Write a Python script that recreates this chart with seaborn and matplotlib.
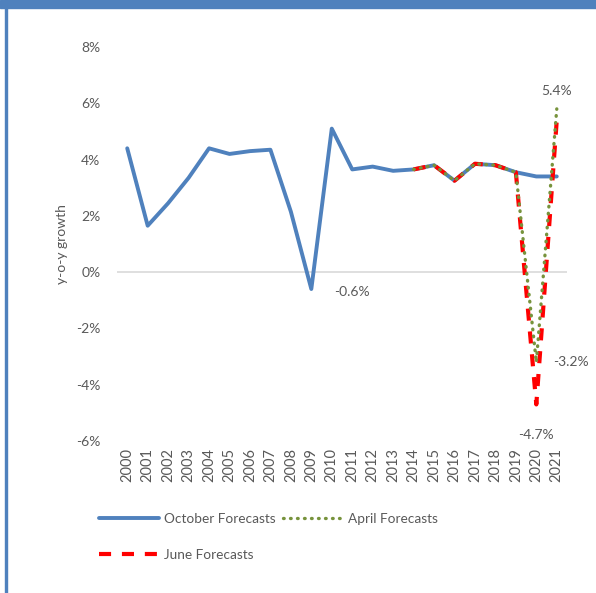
import matplotlib
matplotlib.use("Agg")
import matplotlib.pyplot as plt
from matplotlib.patches import Rectangle
from matplotlib.lines import Line2D
from matplotlib.ticker import FuncFormatter
import pandas as pd
import seaborn as sns

# data (y-o-y growth, %)
years = list(range(2000, 2022))
october = [4.4, 1.65, 2.45, 3.35, 4.4, 4.2, 4.3, 4.35, 2.15, -0.6, 5.1,
           3.65, 3.75, 3.6, 3.65, 3.8, 3.25, 3.85, 3.8, 3.55, 3.4, 3.4]
fc_years = list(range(2014, 2022))
april = [3.65, 3.8, 3.25, 3.85, 3.8, 3.55, -3.2, 5.8]
june = [3.65, 3.8, 3.25, 3.85, 3.8, 3.55, -4.7, 5.4]

BLUE = "#4F81BD"
GREEN = "#77933C"
RED = "#FF0000"
TXT = "#595959"

sns.set_style("white")
plt.rcParams["font.family"] = ["Lato", "DejaVu Sans"]
plt.rcParams["font.size"] = 10

df_oct = pd.DataFrame({"year": years, "growth": october})
df_apr = pd.DataFrame({"year": fc_years, "growth": april})
df_jun = pd.DataFrame({"year": fc_years, "growth": june})

fig = plt.figure(figsize=(5.96, 5.93), dpi=100)
ax = fig.add_axes([117 / 596, 1 - 441 / 593, 450 / 596, 394 / 593])

ax.axhline(0, color="#D9D9D9", lw=1.2, zorder=1)

sns.lineplot(data=df_oct, x="year", y="growth", ax=ax, color=BLUE, lw=2.8,
             estimator=None, errorbar=None, zorder=2)
sns.lineplot(data=df_jun, x="year", y="growth", ax=ax, color=RED, lw=3,
             linestyle=(0, (2.9, 2.6)), estimator=None, errorbar=None, zorder=3)
sns.lineplot(data=df_apr, x="year", y="growth", ax=ax, color=GREEN, lw=2.4,
             linestyle=(0, (0.2, 1.9)), estimator=None, errorbar=None, zorder=4)
ax.lines[-1].set_dash_capstyle("round")

ax.set_xlim(1999.5, 2021.5)
ax.set_ylim(-6, 8)
ax.set_yticks(range(-6, 9, 2))
ax.yaxis.set_major_formatter(FuncFormatter(lambda v, p: f"{v:.0f}%"))
ax.set_xticks(years)
ax.set_xticklabels([str(y) for y in years], rotation=90)
ax.tick_params(axis="y", length=0, pad=12, colors=TXT, labelsize=10)
ax.tick_params(axis="x", length=0, pad=5, colors=TXT, labelsize=10.5)
ax.set_xlabel("")
ax.set_ylabel("y-o-y growth", color=TXT, fontsize=10)
ax.yaxis.set_label_coords(-0.108, 0.5)
for s in ax.spines.values():
    s.set_visible(False)
ax.grid(False)
ax.patch.set_alpha(0)

# data labels
lab = dict(textcoords="offset points", color=TXT, fontsize=10, va="center")
ax.annotate("-0.6%", (2009, october[9]), xytext=(29, -2), ha="center", **lab)
ax.annotate("5.4%", (2021, june[-1]), xytext=(0, 21), ha="center", **lab)
ax.annotate("-3.2%", (2020, april[-2]), xytext=(25, 0), ha="center", **lab)
ax.annotate("-4.7%", (2020, june[-2]), xytext=(0, -22), ha="center", **lab)

# legend
h_oct = Line2D([], [], color=BLUE, lw=2.8)
h_jun = Line2D([], [], color=RED, lw=3, linestyle=(0, (2.9, 2.6)))
h_apr = Line2D([], [], color=GREEN, lw=2.4, linestyle=(0, (0.2, 1.9)),
               dash_capstyle="round")
leg = fig.legend([h_oct, h_jun, h_apr],
                 ["October Forecasts", "June Forecasts", "April Forecasts"],
                 ncol=2, loc="upper left", bbox_to_anchor=(99 / 596, 1 - 513 / 593),
                 frameon=False, handlelength=4.4, handletextpad=0.4,
                 columnspacing=0.5, labelspacing=1.75, borderpad=0,
                 borderaxespad=0, fontsize=9.8)
for t in leg.get_texts():
    t.set_color(TXT)

# frame of the original chart box
fig.patches.append(Rectangle((0, 1 - 8 / 593), 1, 8 / 593, transform=fig.transFigure,
                             color=BLUE, zorder=0))
fig.patches.append(Rectangle((5 / 596, 0), 2 / 596, 1, transform=fig.transFigure,
                             color=BLUE, zorder=0))

fig.savefig("out.png", dpi=100)
